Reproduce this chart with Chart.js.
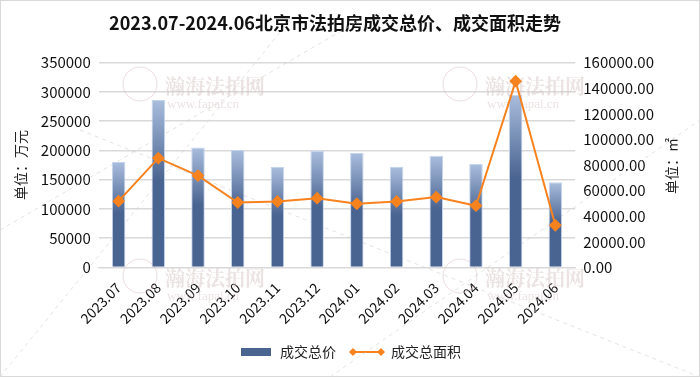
<!DOCTYPE html>
<html>
<head>
<meta charset="utf-8">
<script src="https://cdn.jsdelivr.net/npm/chart.js@4/dist/chart.umd.min.js"></script>
<style>
  html, body { margin: 0; padding: 0; background: #fff; }
  #wrap { width: 700px; height: 377px; position: relative; }
</style>
</head>
<body>
<div id="wrap"><canvas id="c" width="700" height="377"></canvas></div>
<script>
const months = ['2023.07', '2023.08', '2023.09', '2023.10', '2023.11', '2023.12',
                '2024.01', '2024.02', '2024.03', '2024.04', '2024.05', '2024.06'];
// 成交总价 (万元)
const totalPrice = [180000, 286000, 205000, 200500, 171500, 199000,
                    195500, 171500, 191000, 176500, 295000, 145500];
// 成交总面积 (㎡)
const totalArea = [51800, 85400, 71700, 50700, 51500, 54100,
                   49700, 51500, 54900, 48200, 145500, 32900];

const FONT = '"Noto Sans CJK SC", "Noto Sans", sans-serif';
const DARK = '#4a6491';
const LIGHT = '#a9bddd';
const ORANGE = '#f7821e';

// light at the top of each bar, fading into the dark blue a bit before halfway down
function barGradient(context) {
    const chart = context.chart;
    const y = chart.scales && chart.scales.y;
    if (!y || !chart.chartArea || context.type !== 'data') return DARK;
    const top = y.getPixelForValue(context.raw);
    const bottom = y.getPixelForValue(0);
    if (!isFinite(top) || bottom - top < 1) return DARK;
    const g = chart.ctx.createLinearGradient(0, top, 0, bottom);
    g.addColorStop(0, LIGHT);
    g.addColorStop(0.48, DARK);
    g.addColorStop(1, DARK);
    return g;
}

function legendIcon(kind) {
    const cv = document.createElement('canvas');
    const c = cv.getContext('2d');
    if (kind === 'bar') {
        cv.width = 30; cv.height = 8;
        c.fillStyle = DARK;
        c.fillRect(0, 0, 30, 8);
    } else {
        cv.width = 36; cv.height = 10;
        c.strokeStyle = ORANGE; c.lineWidth = 2;
        c.beginPath(); c.moveTo(4, 5); c.lineTo(32, 5); c.stroke();
        c.fillStyle = ORANGE;
        [4, 32].forEach(x => {
            c.beginPath();
            c.moveTo(x, 1); c.lineTo(x + 4, 5); c.lineTo(x, 9); c.lineTo(x - 4, 5);
            c.closePath(); c.fill();
        });
    }
    return cv;
}

const watermark = {
    id: 'watermark',
    beforeDatasetsDraw(chart) {
        const ctx = chart.ctx;
        ctx.save();
        ctx.strokeStyle = 'rgba(200,200,200,0.5)';
        ctx.setLineDash([4, 4]);
        ctx.lineWidth = 1;
        [[0, 230, 360, 20], [80, 130, 700, 377], [330, 377, 700, 120], [0, 377, 290, 20]].forEach(l => {
            ctx.beginPath(); ctx.moveTo(l[0], l[1]); ctx.lineTo(l[2], l[3]); ctx.stroke();
        });
        ctx.setLineDash([]);
        ctx.fillStyle = 'rgba(210,190,190,0.45)';
        ctx.textAlign = 'left';
        [[165, 86], [485, 86], [165, 278], [485, 278]].forEach(p => {
            ctx.font = 'bold 20px "Noto Serif CJK SC", "Noto Sans CJK SC", serif';
            ctx.fillText('瀚海法拍网', p[0], p[1]);
            ctx.font = '13px "Liberation Serif", serif';
            ctx.fillText('www.fapai.cn', p[0] + 2, p[1] + 19);
            ctx.beginPath();
            ctx.strokeStyle = 'rgba(210,180,180,0.45)';
            ctx.arc(p[0] - 25, p[1] - 2, 17, 0, Math.PI * 2);
            ctx.stroke();
        });
        ctx.restore();
    }
};

// legend sits centred on the whole picture, not on the padded box
const legendShift = {
    id: 'legendShift',
    afterLayout(chart) {
        if (chart.legend) {
            chart.legend.left += 15;
            chart.legend.right += 15;
        }
    }
};

const frame = {
    id: 'frame',
    afterDraw(chart) {
        const ctx = chart.ctx;
        ctx.save();
        // right axis title, reads bottom to top like the left one
        ctx.translate(672, 166);
        ctx.rotate(-Math.PI / 2);
        ctx.fillStyle = '#222';
        ctx.font = '14px ' + FONT;
        ctx.textAlign = 'center';
        ctx.textBaseline = 'middle';
        ctx.fillText('单位：㎡', 0, 0);
        ctx.restore();
        ctx.save();
        ctx.strokeStyle = '#d9d9d9';
        ctx.lineWidth = 1;
        ctx.strokeRect(0.5, 0.5, chart.width - 1, chart.height - 1);
        ctx.restore();
    }
};

new Chart(document.getElementById('c'), {
    data: {
        labels: months,
        datasets: [{
            type: 'line',
            label: '成交总面积',
            data: totalArea,
            yAxisID: 'y1',
            borderColor: ORANGE,
            backgroundColor: ORANGE,
            borderWidth: 2,
            pointStyle: 'rectRot',
            pointRadius: 5,
            pointHoverRadius: 5,
            tension: 0,
            order: 0
        }, {
            type: 'bar',
            label: '成交总价',
            data: totalPrice,
            yAxisID: 'y',
            backgroundColor: barGradient,
            borderColor: '#c5d4ee',
            borderWidth: 1,
            categoryPercentage: 1,
            barPercentage: 0.34,
            order: 1
        }]
    },
    options: {
        responsive: false,
        animation: false,
        layout: { padding: { left: 8, right: 38, top: 4, bottom: 8 } },
        scales: {
            x: {
                grid: { display: false },
                border: { color: '#d9d9d9' },
                ticks: { color: '#111', font: { family: FONT, size: 14 }, maxRotation: 45, minRotation: 45, padding: 4 }
            },
            y: {
                position: 'left',
                min: 0, max: 350000,
                ticks: { stepSize: 50000, color: '#111', font: { family: FONT, size: 15 }, padding: 8,
                         callback: v => String(v) },
                grid: { color: '#d9d9d9', lineWidth: 1.5, drawTicks: false },
                border: { display: false },
                title: { display: true, text: '单位：万元', color: '#222', font: { family: FONT, size: 14 }, padding: { bottom: 4 } }
            },
            y1: {
                position: 'right',
                min: 0, max: 160000,
                ticks: { stepSize: 20000, color: '#111', font: { family: FONT, size: 15 }, padding: 8,
                         callback: v => v.toFixed(2) },
                grid: { display: false, drawTicks: false },
                border: { display: false }
            }
        },
        plugins: {
            title: {
                display: true,
                text: '2023.07-2024.06北京市法拍房成交总价、成交面积走势',
                color: '#111',
                font: { family: FONT, size: 18, weight: 'bold' },
                padding: { top: 8, bottom: 29 }
            },
            legend: {
                position: 'bottom',
                reverse: true,
                labels: {
                    usePointStyle: true,
                    pointStyleWidth: 34,
                    color: '#222',
                    font: { family: FONT, size: 14 },
                    boxHeight: 10,
                    padding: 14,
                    generateLabels(chart) {
                        return chart.data.datasets.map((ds, i) => ({
                            text: ds.label,
                            pointStyle: legendIcon(ds.type),
                            fillStyle: ORANGE,
                            strokeStyle: 'transparent',
                            lineWidth: 0,
                            fontColor: '#222',
                            hidden: !chart.isDatasetVisible(i),
                            datasetIndex: i
                        }));
                    }
                }
            },
            tooltip: { enabled: false }
        }
    },
    plugins: [watermark, legendShift, frame]
});
</script>
</body>
</html>
